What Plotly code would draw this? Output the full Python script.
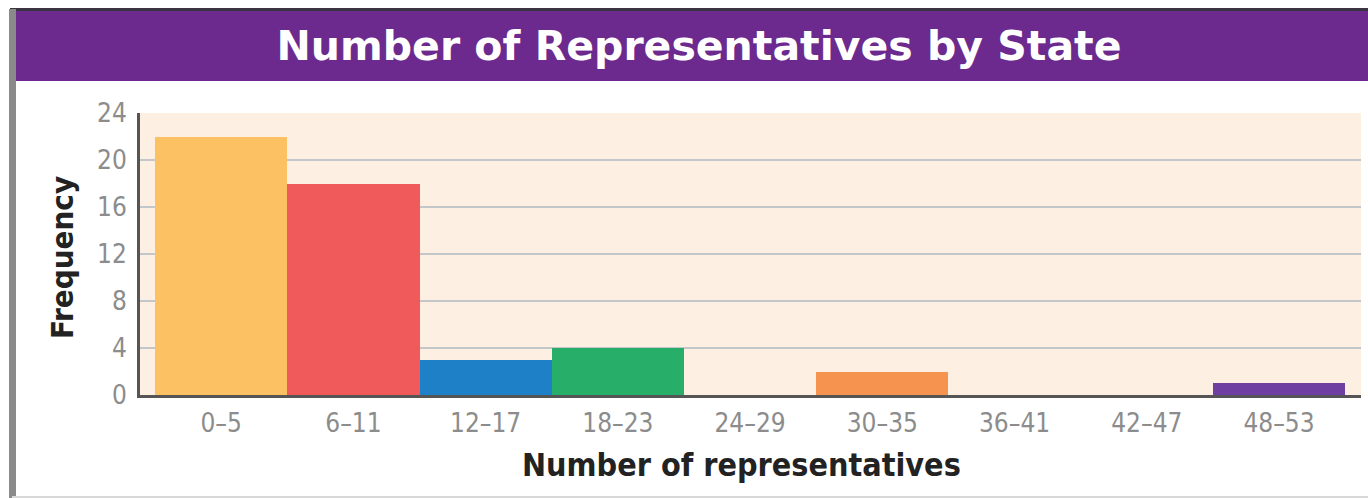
import plotly.graph_objects as go

categories = ["0–5", "6–11", "12–17", "18–23", "24–29", "30–35", "36–41", "42–47", "48–53"]
frequency = [22, 18, 3, 4, 0, 2, 0, 0, 1]
bar_colors = ["#FBC162", "#F05A5B", "#1E80C6", "#27AE68", "#F5B041", "#F6944F", "#888888", "#888888", "#6E3FA1"]
y_ticks = [0, 4, 8, 12, 16, 20, 24]
title_text = "Number of Representatives by State"
x_title = "Number of representatives"
y_title = "Frequency"

W, H = 1368, 498
L, R, T, B = 140, 7, 113, 103
pw, ph = W - L - R, H - T - B

def px(x):
    return (x - L) / pw

def py(y):
    return (H - B - y) / ph

narrow = "Liberation Sans Narrow, DejaVu Sans Condensed, Arial Narrow, sans-serif"

fig = go.Figure()
fig.add_trace(go.Bar(
    x=categories, y=frequency, marker=dict(color=bar_colors, line=dict(width=0)),
    width=1.0, hoverinfo="x+y",
))

shapes = [
    dict(type="rect", xref="paper", yref="paper", x0=px(13), x1=px(W + 5), y0=py(81), y1=py(11),
         fillcolor="#6C2A8E", line=dict(width=0), layer="below"),
    dict(type="line", xref="paper", yref="paper", x0=px(10), x1=px(W + 5), y0=py(9.5), y1=py(9.5),
         line=dict(color="#3a3340", width=3)),
    dict(type="line", xref="paper", yref="paper", x0=px(12.5), x1=px(12.5), y0=py(9), y1=py(H),
         line=dict(color="#8a8a8a", width=7)),
    dict(type="line", xref="paper", yref="paper", x0=px(12), x1=px(W + 5), y0=py(497), y1=py(497),
         line=dict(color="#d8d8d8", width=2)),
]

annotations = [
    dict(text=x_title, xref="paper", yref="paper", x=px(741), y=py(465), showarrow=False,
         xanchor="center", yanchor="middle",
         font=dict(family=narrow, size=32, color="#222222", weight="bold")),
    dict(text=y_title, xref="paper", yref="paper", x=px(62), y=py(258), showarrow=False,
         textangle=-90, xanchor="center", yanchor="middle",
         font=dict(family=narrow, size=31, color="#222222", weight="bold")),
]

fig.update_layout(
    width=W, height=H,
    margin=dict(l=L, r=R, t=T, b=B, pad=0),
    paper_bgcolor="white",
    plot_bgcolor="#FDF0E2",
    bargap=0,
    showlegend=False,
    title=dict(text=title_text, x=px(699), xref="paper", xanchor="center", y=1 - 46 / H, yanchor="middle",
               font=dict(family="DejaVu Sans, Open Sans, sans-serif", size=41, color="white", weight="bold")),
    shapes=shapes,
    annotations=annotations,
    xaxis=dict(
        range=[-0.614, 8.62], showgrid=False, zeroline=False,
        showline=True, linecolor="#555555", linewidth=3,
        ticks="outside", ticklen=3, tickcolor="rgba(0,0,0,0)",
        tickfont=dict(family=narrow, size=26, color="#8c8c8c"),
        fixedrange=True,
    ),
    yaxis=dict(
        range=[0, 24], tickvals=y_ticks, showgrid=True, gridcolor="#c4c7ca", gridwidth=2,
        zeroline=False, showline=True, linecolor="#555555", linewidth=3,
        ticks="outside", ticklen=5, tickcolor="rgba(0,0,0,0)",
        tickfont=dict(family=narrow, size=26, color="#8c8c8c"),
        fixedrange=True,
    ),
)

fig.write_html("out.html", config={"displayModeBar": False},
               post_script="document.body.style.margin='0px';document.body.style.padding='0px';")
